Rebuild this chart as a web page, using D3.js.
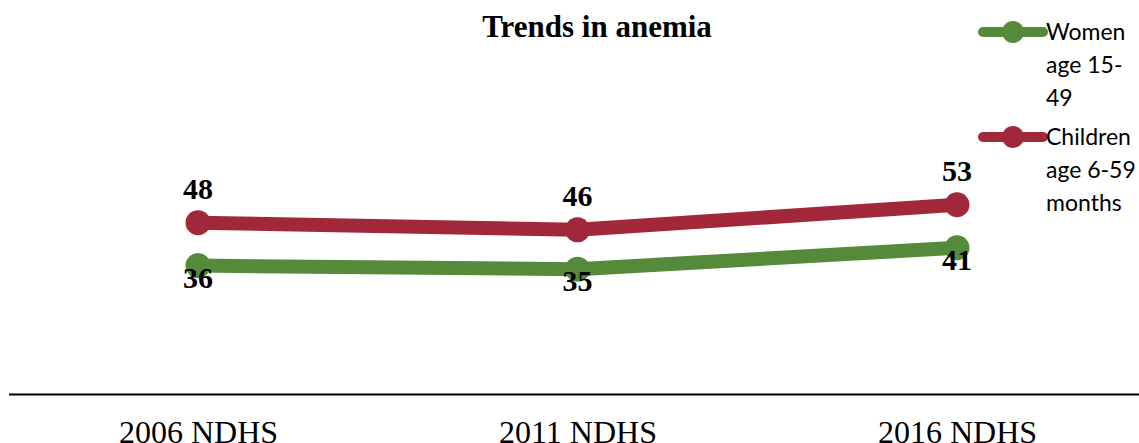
<!DOCTYPE html>
<html>
<head>
<meta charset="utf-8">
<script src="https://cdn.jsdelivr.net/npm/d3@7"></script>
<style>
  html, body { margin: 0; padding: 0; background: #fff; }
  svg { display: block; }
</style>
</head>
<body>
<svg id="chart" width="1139" height="443"></svg>
<script>
// Survey rounds and anemia prevalence (%)
const surveys = ["2006 NDHS", "2011 NDHS", "2016 NDHS"];
const women = [36, 35, 41];
const children = [48, 46, 53];
const seriesNames = [["Women", "age 15-", "49"], ["Children", "age 6-59", "months"]];
const seriesColors = ["#558A3B", "#A1283A"];

const svg = d3.select("#chart");
const W = 1139, H = 443;

const x = d3.scalePoint().domain(surveys).range([198, 957]);
const y = d3.scaleLinear().domain([0, 100]).range([394.5, 36.5]);

// Title
svg.append("text")
  .attr("x", 597).attr("y", 37)
  .attr("text-anchor", "middle")
  .style("font-family", "'Liberation Serif', 'Times New Roman', serif")
  .style("font-weight", "bold")
  .style("font-size", "31px")
  .text("Trends in anemia");

// Category axis at the bottom
const axis = svg.append("g").attr("transform", `translate(0, ${y(0)})`)
  .call(d3.axisBottom(x).tickSize(0).tickPadding(26));
axis.select(".domain").remove();
axis.append("line")
  .attr("x1", 9).attr("x2", W).attr("y1", 0).attr("y2", 0)
  .attr("stroke", "#000").attr("stroke-width", 2);
axis.selectAll(".tick text")
  .attr("dy", "0.71em")
  .attr("fill", "#000")
  .style("font-family", "'Liberation Serif', 'Times New Roman', serif")
  .style("font-size", "32px");

const series = [
  { values: women, color: seriesColors[0], labelPos: "below" },
  { values: children, color: seriesColors[1], labelPos: "above" }
];

const line = d3.line().x((d, i) => x(surveys[i])).y(d => y(d));

series.forEach(s => {
  const g = svg.append("g");
  g.append("path")
    .datum(s.values)
    .attr("d", line)
    .attr("fill", "none")
    .attr("stroke", s.color)
    .attr("stroke-width", 14)
    .attr("stroke-linejoin", "round");
  g.selectAll("circle")
    .data(s.values)
    .join("circle")
    .attr("cx", (d, i) => x(surveys[i]))
    .attr("cy", d => y(d))
    .attr("r", 12.5)
    .attr("fill", s.color);
});

// Value labels
series.forEach(s => {
  svg.append("g").selectAll("text")
    .data(s.values)
    .join("text")
    .attr("x", (d, i) => x(surveys[i]))
    .attr("y", d => s.labelPos === "above" ? y(d) - 24 : y(d) + 22)
    .attr("text-anchor", "middle")
    .style("font-family", "'Liberation Serif', 'Times New Roman', serif")
    .style("font-weight", "bold")
    .style("font-size", "30px")
    .attr("fill", "#000")
    .text(d => d);
});

// Legend
const legendTop = [32, 137];
series.forEach((s, k) => {
  const g = svg.append("g").attr("transform", `translate(983, ${legendTop[k]})`);
  g.append("line")
    .attr("x1", 0).attr("x2", 60).attr("y1", 0).attr("y2", 0)
    .attr("stroke", s.color).attr("stroke-width", 10).attr("stroke-linecap", "round");
  g.append("circle").attr("cx", 30).attr("cy", 0).attr("r", 11).attr("fill", s.color);
  const t = g.append("text")
    .attr("x", 63).attr("y", 8)
    .style("font-family", "Lato, 'Open Sans', sans-serif")
    .style("font-size", "23px")
    .attr("fill", "#000");
  seriesNames[k].forEach((ln, j) => {
    t.append("tspan").attr("x", 63).attr("dy", j === 0 ? 0 : 33).text(ln);
  });
});
</script>
</body>
</html>
